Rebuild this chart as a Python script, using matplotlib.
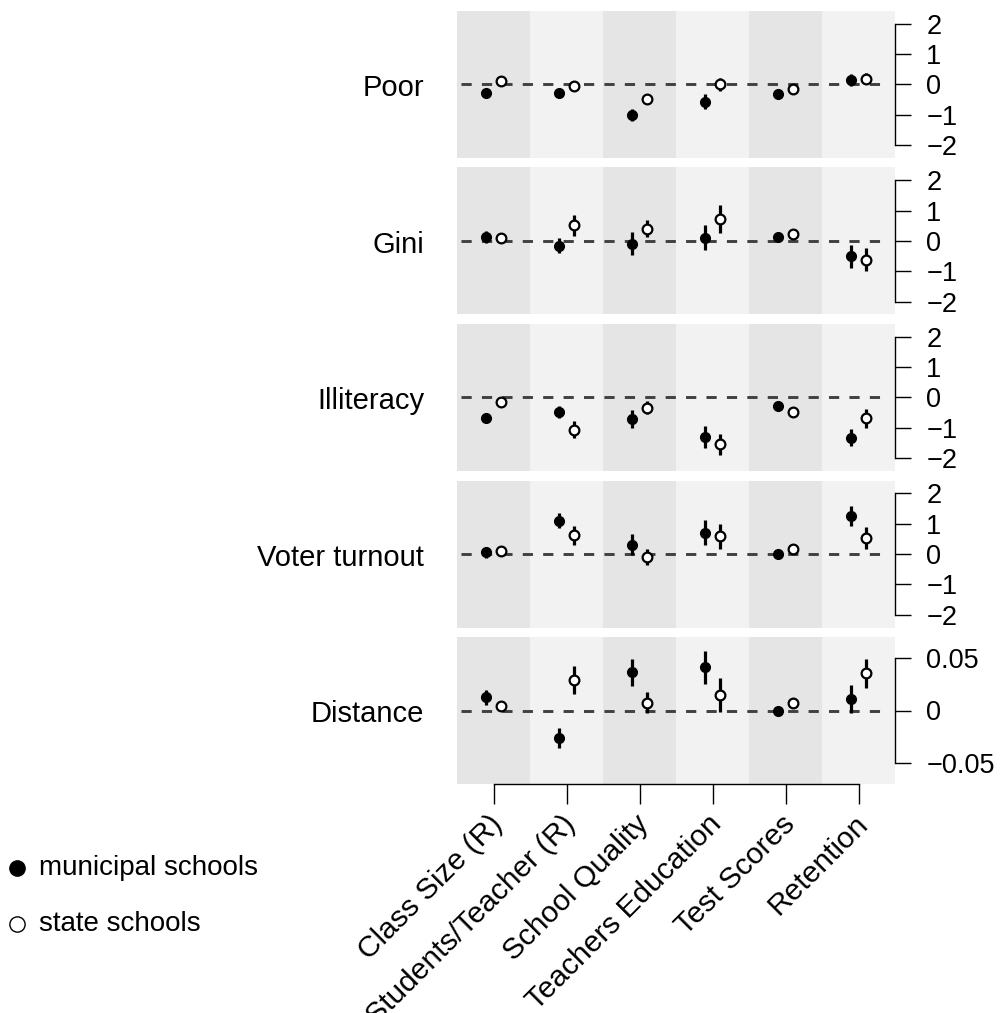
import numpy as np
import matplotlib
matplotlib.use("Agg")
from matplotlib import pyplot as plt
from matplotlib.lines import Line2D
from matplotlib import transforms

plt.rcParams['font.family'] = ['Liberation Sans', 'DejaVu Sans']

categories = ["Class Size (R)", "Students/Teacher (R)", "School Quality",
              "Teachers Education", "Test Scores", "Retention"]
outcomes = ["Poor", "Gini", "Illiteracy", "Voter turnout", "Distance"]

# municipal schools: estimates and CI half-widths, one row per outcome
municipal_est = [
    [-0.27, -0.27, -1.01, -0.56, -0.30, 0.15],
    [0.13, -0.16, -0.09, 0.11, 0.13, -0.51],
    [-0.69, -0.47, -0.71, -1.30, -0.27, -1.33],
    [0.05, 1.09, 0.31, 0.70, 0.01, 1.24],
    [0.0123, -0.026, 0.036, 0.0407, 0.0, 0.0107],
]
municipal_ci = [
    [0.08, 0.10, 0.20, 0.25, 0.08, 0.20],
    [0.20, 0.25, 0.37, 0.42, 0.08, 0.37],
    [0.14, 0.20, 0.30, 0.35, 0.08, 0.28],
    [0.17, 0.25, 0.35, 0.42, 0.06, 0.33],
    [0.007, 0.009, 0.013, 0.016, 0.002, 0.013],
]
# state schools
state_est = [
    [0.10, -0.05, -0.49, 0.01, -0.16, 0.19],
    [0.11, 0.52, 0.41, 0.72, 0.22, -0.61],
    [-0.16, -1.06, -0.33, -1.54, -0.47, -0.69],
    [0.09, 0.61, -0.09, 0.58, 0.17, 0.52],
    [0.004, 0.029, 0.0073, 0.015, 0.0067, 0.035],
]
state_ci = [
    [0.06, 0.18, 0.12, 0.22, 0.06, 0.18],
    [0.06, 0.35, 0.27, 0.45, 0.06, 0.38],
    [0.10, 0.28, 0.20, 0.35, 0.06, 0.32],
    [0.06, 0.32, 0.27, 0.42, 0.06, 0.37],
    [0.002, 0.013, 0.010, 0.016, 0.002, 0.014],
]

y_ticks = [[-2, -1, 0, 1, 2]] * 4 + [[-0.05, 0, 0.05]]
y_ticklabels = [["\u22122", "\u22121", "0", "1", "2"]] * 4 + [["\u22120.05", "0", "0.05"]]
y_lims = [(-2.42, 2.42)] * 4 + [(-0.0695, 0.0695)]

W, H = 1002, 1013
fig = plt.figure(figsize=(W / 100, H / 100), dpi=100)

x = np.arange(1, len(categories) + 1)
off = 0.1
left_px, width_px = 457, 438
panel_h, pitch, top0 = 147, 156.5, 11

for i, name in enumerate(outcomes):
    top = top0 + i * pitch
    ax = fig.add_axes([left_px / W, 1 - (top + panel_h) / H, width_px / W, panel_h / H])
    ax.set_xlim(0.5, len(categories) + 0.5)
    ax.set_ylim(*y_lims[i])
    # alternating background bands
    for j in range(len(categories)):
        ax.axvspan(j + 0.5, j + 1.5, color="#e5e5e5" if j % 2 == 0 else "#f2f2f2",
                   lw=0, zorder=0)
    ax.axhline(0, xmin=4 / width_px, xmax=(886 - left_px) / width_px,
               color="#404040", lw=2.1, dashes=(3.5, 3.5), zorder=1)

    m = np.array(municipal_est[i]); mc = np.array(municipal_ci[i])
    s = np.array(state_est[i]); sc = np.array(state_ci[i])
    ax.vlines(x - off, m - mc, m + mc, color="black", lw=2.3, zorder=2)
    ax.vlines(x + off, s - sc, s + sc, color="black", lw=2.3, zorder=2)
    ax.plot(x - off, m, "o", color="black", ms=7, zorder=3)
    ax.plot(x + off, s, "o", mfc="white", mec="black", mew=1.6, ms=7, zorder=3)

    for sp in ["top", "left", "bottom"]:
        ax.spines[sp].set_visible(False)
    ax.spines["right"].set_bounds(y_ticks[i][0], y_ticks[i][-1])
    ax.spines["right"].set_linewidth(1.0)
    ax.yaxis.tick_right()
    ax.set_yticks(y_ticks[i])
    ax.set_yticklabels(y_ticklabels[i])
    ax.tick_params(axis="y", length=11.5, width=1.0, pad=11, labelsize=19.5)
    ax.set_xticks([])

    lab_shift = transforms.ScaledTranslation(0, -4 / 100, fig.dpi_scale_trans)
    ax.text(-0.075, 0.5 - (np.mean(y_lims[i]) / (y_lims[i][1] - y_lims[i][0])), name,
            transform=ax.transAxes + lab_shift, ha="right", va="center", fontsize=21)

    if i == len(outcomes) - 1:
        ax.spines["bottom"].set_visible(True)
        ax.spines["bottom"].set_bounds(1, len(categories))
        ax.spines["bottom"].set_linewidth(1.0)
        ax.set_xticks(x)
        ax.set_xticklabels([])
        ax.tick_params(axis="x", length=14.5, width=1.0)
        trans = transforms.blended_transform_factory(ax.transData, ax.transAxes)
        shift = transforms.ScaledTranslation(5 / 100, -36 / 100, fig.dpi_scale_trans)
        for xi, lab in zip(x, categories):
            ax.text(xi, 0, lab, transform=trans + shift, rotation=45,
                    rotation_mode="anchor", ha="right", va="center", fontsize=21.5)

# legend in the lower left corner
fig.add_artist(Line2D([17 / W], [1 - 868 / H], marker="o", color="black", ms=11,
                      transform=fig.transFigure))
fig.add_artist(Line2D([17 / W], [1 - 924 / H], marker="o", mfc="white", mec="black",
                      mew=1.0, ms=11, transform=fig.transFigure))
fig.text(39 / W, 1 - 868 / H, "municipal schools", ha="left", va="center", fontsize=20)
fig.text(39 / W, 1 - 924 / H, "state schools", ha="left", va="center", fontsize=20)

plt.savefig("out.png", dpi=100)
